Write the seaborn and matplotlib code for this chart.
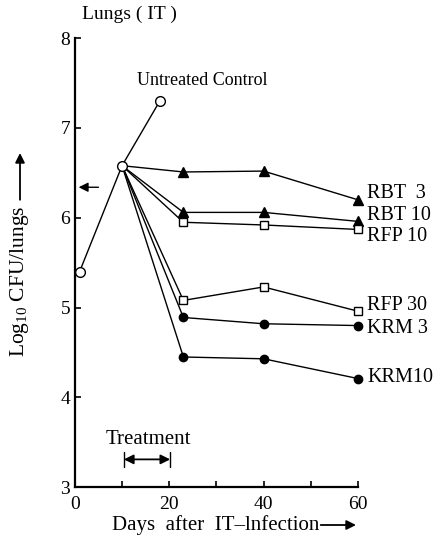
import matplotlib
matplotlib.use("Agg")
import matplotlib.pyplot as plt
import seaborn as sns
import pandas as pd

sns.set_theme(style="white")
plt.rcParams['font.family'] = ['Liberation Serif', 'DejaVu Serif']
plt.rcParams['text.color'] = 'black'
plt.rcParams['mathtext.fontset'] = 'custom'
plt.rcParams['mathtext.rm'] = 'Liberation Serif'

# Data
control_days = [1, 10, 18]
control_vals = [5.4, 6.58, 7.3]
treat_days = [10, 23, 40, 60]
series_names = ["RBT  3", "RBT 10", "RFP 10", "RFP 30", "KRM 3", "KRM10"]
rbt3 = [6.58, 6.51, 6.52, 6.20]
rbt10 = [6.58, 6.06, 6.06, 5.96]
rfp10 = [6.58, 5.95, 5.92, 5.87]
rfp30 = [6.58, 5.08, 5.23, 4.96]
krm3 = [6.58, 4.89, 4.82, 4.80]
krm10 = [6.58, 4.45, 4.43, 4.21]
series_vals = [rbt3, rbt10, rfp10, rfp30, krm3, krm10]
series_markers = ["^", "^", "s", "s", "o", "o"]
series_fill = ["black", "black", "white", "white", "black", "black"]
label_offsets = [0.07, 0.07, -0.08, 0.06, -0.03, 0.01]
x_ticks = [0, 20, 40, 60]
y_ticks = [3, 4, 5, 6, 7, 8]

FS = 13
FL = 14.5

fig = plt.figure(figsize=(4.43, 5.45), dpi=100)
ax = fig.add_axes([0.169, 0.106, 0.639, 0.824])

for name, vals, m, fc in zip(series_names, series_vals, series_markers, series_fill):
    df = pd.DataFrame({"day": treat_days, "cfu": vals})
    sns.lineplot(data=df, x="day", y="cfu", ax=ax, color="black", lw=1.0,
                 marker=m, markersize=6.5 if m == "^" else 6, markerfacecolor=fc,
                 markeredgecolor="black", markeredgewidth=1.0,
                 markevery=[1, 2, 3], clip_on=False)

dfc = pd.DataFrame({"day": control_days, "cfu": control_vals})
sns.lineplot(data=dfc, x="day", y="cfu", ax=ax, color="black", lw=1.0,
             marker="o", markersize=7, markerfacecolor="white",
             markeredgecolor="black", markeredgewidth=1.0, clip_on=False, zorder=5)

ax.set_xlim(0, 60)
ax.set_ylim(3, 8)
ax.set_xticks(x_ticks)
ax.set_xticks([10, 30, 50], minor=True)
ax.set_yticks(y_ticks)
ax.tick_params(axis="both", which="both", direction="in", length=4, width=1.2,
               colors="black", labelsize=FS + 1, bottom=True, left=True)
ax.tick_params(axis="x", pad=6)
for s in ["top", "right"]:
    ax.spines[s].set_visible(False)
for s in ["left", "bottom"]:
    ax.spines[s].set_color("black")
    ax.spines[s].set_linewidth(1.6)
ax.set_xlabel("")
ax.set_ylabel("")

# right-side labels
for name, vals, off in zip(series_names, series_vals, label_offsets):
    ax.text(62.0, vals[-1] + off, name, fontsize=FL, va="center", ha="left",
            clip_on=False)

ax.text(13.1, 7.53, "Untreated Control", fontsize=FS, va="center", ha="left")
ax.text(1.5, 8.26, "Lungs ( IT )", fontsize=14, va="center", ha="left", clip_on=False)

# arrow near y axis
ax.annotate("", xy=(0.8, 6.34), xytext=(5.0, 6.34),
            arrowprops=dict(arrowstyle="-|>", color="black", lw=1.0,
                            mutation_scale=14, shrinkA=0, shrinkB=0),
            annotation_clip=False)

# Treatment
ax.text(15.5, 3.53, "Treatment", fontsize=15, ha="center", va="center")
ax.annotate("", xy=(10.4, 3.31), xytext=(20.2, 3.31),
            arrowprops=dict(arrowstyle="<|-|>", color="black", lw=1.3,
                            mutation_scale=14, shrinkA=0, shrinkB=0))
ax.plot([10.4, 10.4], [3.23, 3.39], color="black", lw=1.0)
ax.plot([20.2, 20.2], [3.23, 3.39], color="black", lw=1.0)

# x label with arrow
xl = fig.text(112 / 443, 1 - 525 / 545, "Days  after  IT\u2013lnfection", fontsize=15,
              ha="left", va="center")
# y label with arrow
yl = fig.text(20 / 443, 1 - 281 / 545, "Log$_{10}$ CFU/lungs", fontsize=15.5,
              ha="center", va="center", rotation=90)

fig.canvas.draw()
r = fig.canvas.get_renderer()
bx = xl.get_window_extent(r).transformed(fig.transFigure.inverted())
by = yl.get_window_extent(r).transformed(fig.transFigure.inverted())

fig.add_artist(matplotlib.patches.FancyArrowPatch(
    (bx.x1 + 0.003, 1 - 525 / 545), (356 / 443, 1 - 525 / 545),
    transform=fig.transFigure, arrowstyle="-|>", mutation_scale=14,
    color="black", lw=1.3, shrinkA=0, shrinkB=0))
fig.add_artist(matplotlib.patches.FancyArrowPatch(
    (20 / 443, by.y1 + 0.01), (20 / 443, 1 - 153 / 545),
    transform=fig.transFigure, arrowstyle="-|>", mutation_scale=14,
    color="black", lw=1.3, shrinkA=0, shrinkB=0))

fig.savefig("out.png", dpi=100)
